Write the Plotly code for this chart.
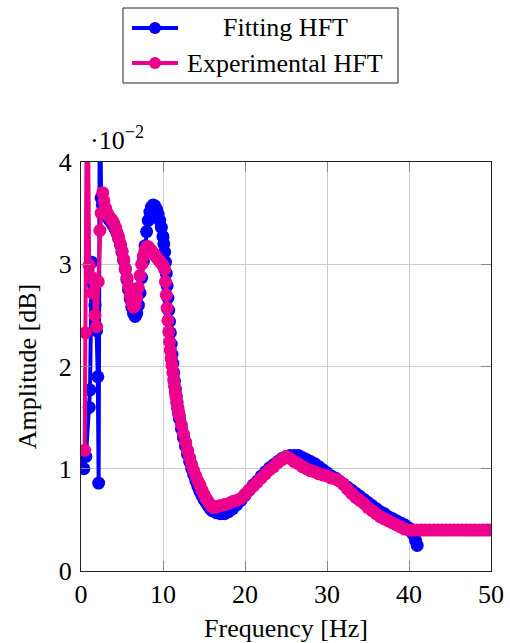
import plotly.graph_objects as go

# Fitted high-frequency transfer (HFT) amplitude
freq_fit = [0.1, 0.35, 0.6, 1.0, 1.1, 1.3, 1.5, 1.7, 1.9, 2.05, 2.15, 2.3, 2.45,
            2.6, 2.8, 3.0, 3.2, 3.4, 3.6, 3.8, 4.0, 4.2, 4.4, 4.6, 4.8, 5.0, 5.2,
            5.4, 5.6, 5.8, 6.0, 6.2, 6.4, 6.6, 6.8, 7.0, 7.2, 7.4, 7.6, 7.8, 8.0,
            8.2, 8.4, 8.6, 8.8, 9.0, 9.2, 9.4, 9.6, 9.8, 10.0, 10.1, 10.2, 10.3,
            10.4, 10.5, 10.6, 10.7, 10.8, 10.9, 11.0, 11.1, 11.2, 11.3, 11.4, 11.5,
            11.6, 11.7, 11.8, 11.9, 12.0, 12.25, 12.5, 12.75, 13.0, 13.25, 13.5,
            13.75, 14.0, 14.25, 14.5, 14.75, 15.0, 15.25, 15.5, 15.75, 16.0, 16.5,
            17.0, 17.5, 18.0, 18.5, 19.0, 19.5, 20.0, 20.5, 21.0, 21.5, 22.0, 22.5,
            23.0, 23.5, 24.0, 24.5, 25.0, 25.5, 26.0, 26.5, 27.0, 27.5, 28.0, 28.5,
            29.0, 29.5, 30.0, 30.5, 31.0, 31.5, 32.0, 32.5, 33.0, 33.5, 34.0, 34.5,
            35.0, 35.5, 36.0, 36.5, 37.0, 37.5, 38.0, 38.5, 39.0, 39.5, 40.0, 40.5,
            40.8, 41.0]
amp_fit = [0.0113, 0.0100, 0.0112, 0.0160, 0.0177, 0.0302, 0.0280, 0.0260, 0.0235,
           0.0190, 0.0086, 0.0500, 0.0365, 0.0358, 0.0352, 0.0350, 0.0347, 0.0344,
           0.0342, 0.0340, 0.0337, 0.0334, 0.0330, 0.0325, 0.0319, 0.0312, 0.0304,
           0.0295, 0.0285, 0.0275, 0.0266, 0.0258, 0.0252, 0.0249, 0.0252, 0.0260,
           0.0272, 0.0287, 0.0303, 0.0318, 0.0332, 0.0343, 0.0351, 0.0356, 0.0358,
           0.0357, 0.0354, 0.0349, 0.0343, 0.0336, 0.0327, 0.0320, 0.0312, 0.0302,
           0.0291, 0.0279, 0.0267, 0.0255, 0.0244, 0.0233, 0.0222, 0.0212, 0.0203,
           0.0194, 0.0186, 0.0178, 0.0171, 0.0165, 0.0159, 0.0154, 0.0149, 0.0139,
           0.0130, 0.0122, 0.0114, 0.0107, 0.0100, 0.0094, 0.0088, 0.0083, 0.0078,
           0.0074, 0.0070, 0.0067, 0.0064, 0.0061, 0.0059, 0.0057, 0.0056, 0.0056,
           0.0058, 0.0061, 0.0065, 0.0069, 0.0074, 0.0079, 0.0084, 0.0088, 0.0093,
           0.0097, 0.0101, 0.0104, 0.0107, 0.0110, 0.0112, 0.0113, 0.0113, 0.0113,
           0.0111, 0.0109, 0.0107, 0.0105, 0.0102, 0.0099, 0.0096, 0.0093, 0.0091,
           0.0088, 0.0085, 0.0082, 0.0079, 0.0076, 0.0073, 0.0070, 0.0067, 0.0064,
           0.0061, 0.0058, 0.0056, 0.0053, 0.0051, 0.0049, 0.0047, 0.0045, 0.0042,
           0.0036, 0.0030, 0.0025]

# Measured high-frequency transfer (HFT) amplitude
freq_exp = [0.45, 0.55, 0.75, 1.0, 1.2, 1.4, 1.55, 1.7, 1.9, 2.1, 2.3, 2.45, 2.65,
            2.8, 3.0, 3.2, 3.4, 3.6, 3.8, 4.0, 4.2, 4.4, 4.6, 4.8, 5.0, 5.2, 5.4,
            5.6, 5.8, 6.0, 6.2, 6.4, 6.6, 6.8, 7.0, 7.2, 7.4, 7.6, 7.8, 8.0, 8.2,
            8.4, 8.6, 8.8, 9.0, 9.2, 9.4, 9.6, 9.8, 10.0, 10.2, 10.3, 10.4, 10.5,
            10.6, 10.7, 10.8, 10.9, 11.0, 11.1, 11.2, 11.3, 11.4, 11.5, 11.6, 11.7,
            11.8, 11.9, 12.0, 12.25, 12.5, 12.75, 13.0, 13.25, 13.5, 13.75, 14.0,
            14.25, 14.5, 14.75, 15.0, 15.25, 15.5, 15.75, 16.0, 16.2, 16.5, 17.0,
            17.5, 18.0, 18.5, 19.0, 19.5, 20.0, 20.5, 21.0, 21.5, 22.0, 22.5, 23.0,
            23.5, 24.0, 24.5, 25.0, 25.5, 26.0, 26.5, 27.0, 27.5, 28.0, 28.5, 29.0,
            29.5, 30.0, 30.5, 31.0, 31.5, 32.0, 32.5, 33.0, 33.5, 34.0, 34.5, 35.0,
            35.5, 36.0, 36.5, 37.0, 37.5, 38.0, 38.5, 39.0, 39.5, 40.0, 40.5, 41.0,
            41.5, 42.0, 42.5, 43.0, 43.5, 44.0, 44.5, 45.0, 45.5, 46.0, 46.5, 47.0,
            47.5, 48.0, 48.5, 49.0, 49.5, 50.0]
amp_exp = [0.0118, 0.0233, 0.0520, 0.0299, 0.0288, 0.0272, 0.0285, 0.0250, 0.0239,
           0.0283, 0.0333, 0.0350, 0.0370, 0.0362, 0.0355, 0.0350, 0.0347, 0.0345,
           0.0343, 0.0340, 0.0336, 0.0331, 0.0326, 0.0320, 0.0313, 0.0305, 0.0296,
           0.0287, 0.0278, 0.0269, 0.0262, 0.0258, 0.0260, 0.0267, 0.0277, 0.0289,
           0.0300, 0.0308, 0.0314, 0.0317, 0.0317, 0.0315, 0.0313, 0.0311, 0.0309,
           0.0307, 0.0305, 0.0303, 0.0301, 0.0299, 0.0295, 0.0283, 0.0270, 0.0257,
           0.0245, 0.0234, 0.0224, 0.0216, 0.0208, 0.0201, 0.0194, 0.0187, 0.0181,
           0.0175, 0.0170, 0.0165, 0.0160, 0.0156, 0.0152, 0.0143, 0.0134, 0.0126,
           0.0118, 0.0111, 0.0104, 0.0098, 0.0093, 0.0088, 0.0084, 0.0079, 0.0075,
           0.0071, 0.0068, 0.0065, 0.0063, 0.0062, 0.0063, 0.0064, 0.0065, 0.0066,
           0.0068, 0.0069, 0.0071, 0.0075, 0.0079, 0.0083, 0.0087, 0.0091, 0.0095,
           0.0099, 0.0102, 0.0106, 0.0109, 0.0112, 0.0110, 0.0107, 0.0105, 0.0102,
           0.0100, 0.0098, 0.0097, 0.0095, 0.0094, 0.0093, 0.0091, 0.0090, 0.0088,
           0.0085, 0.0080, 0.0076, 0.0072, 0.0069, 0.0066, 0.0062, 0.0059, 0.0056,
           0.0053, 0.0051, 0.0049, 0.0047, 0.0045, 0.0043, 0.0041, 0.0040, 0.0040,
           0.0040, 0.0040, 0.0040, 0.0040, 0.0040, 0.0040, 0.0040, 0.0040, 0.0040,
           0.0040, 0.0040, 0.0040, 0.0040, 0.0040, 0.0040, 0.0040, 0.0040, 0.0040,
           0.0040, 0.0040]

x_ticks = [0, 10, 20, 30, 40, 50]
y_ticks = [0, 0.01, 0.02, 0.03, 0.04]
y_tick_text = ["0", "1", "2", "3", "4"]

series_names = ["Fitting HFT", "Experimental HFT"]

FONT = "Liberation Serif"
BLUE = "#0000FF"
PINK = "#EC008C"
COLORS = [BLUE, PINK]

# plot-area geometry (pixels) used to place the legend box above the axes
W, H = 510, 643
ML, MR, MT, MB = 81, 19, 162, 72
PW, PH = W - ML - MR, H - MT - MB


def px(xp):
    return (xp - ML) / PW


def py(yp):
    return (H - MB - yp) / PH


fig = go.Figure()
for xs, ys, name, col in [(freq_fit, amp_fit, series_names[0], BLUE),
                          (freq_exp, amp_exp, series_names[1], PINK)]:
    fig.add_trace(go.Scatter(
        x=xs, y=ys, mode="lines+markers", name=name, showlegend=False,
        line=dict(color=col, width=4),
        marker=dict(color=col, size=13, symbol="circle", line=dict(width=0)),
        cliponaxis=True,
    ))

axis_common = dict(
    showline=True, linecolor="#222222", linewidth=1, mirror="ticks",
    ticks="inside", ticklen=10, tickcolor="#888888", tickwidth=1,
    showgrid=True, gridcolor="#cccccc", gridwidth=1,
    zeroline=False, automargin=False,
    tickfont=dict(family=FONT, size=26, color="black"),
    title_font=dict(family=FONT, size=26, color="black"),
)

fig.update_xaxes(range=[0, 50], tickvals=x_ticks, ticktext=[str(t) for t in x_ticks],
                 title_text="Frequency [Hz]", title_standoff=14, **axis_common)
fig.update_yaxes(range=[0, 0.04], tickvals=y_ticks, ticktext=y_tick_text,
                 ticklabelstandoff=3,
                 title_text="Amplitude [dB]", title_standoff=14, **axis_common)

# axis scale factor written above the y axis
fig.add_annotation(
    x=px(88), y=py(120), xref="paper", yref="paper", xanchor="left", yanchor="top",
    text="·10<sup>−2</sup>", showarrow=False,
    font=dict(family=FONT, size=26, color="black"),
)

# legend box with line-and-marker samples
fig.add_shape(type="rect", xref="paper", yref="paper",
              x0=px(123), x1=px(398), y0=py(83), y1=py(8),
              line=dict(color="#222222", width=1), fillcolor="white")
row_y = [28, 63]
for name, col, ry in zip(series_names, COLORS, row_y):
    fig.add_shape(type="line", xref="paper", yref="paper",
                  x0=px(132), x1=px(178), y0=py(ry), y1=py(ry),
                  line=dict(color=col, width=4))
    fig.add_shape(type="circle", xref="paper", yref="paper",
                  xsizemode="pixel", ysizemode="pixel",
                  xanchor=px(155), yanchor=py(ry),
                  x0=-6, x1=6, y0=-6, y1=6,
                  line=dict(color=col, width=0), fillcolor=col)
    fig.add_annotation(x=px(285), y=py(ry), xref="paper", yref="paper",
                       xanchor="center", yanchor="middle", text=name,
                       showarrow=False,
                       font=dict(family=FONT, size=26, color="black"))

fig.update_layout(
    width=W, height=H,
    margin=dict(l=ML, r=MR, t=MT, b=MB),
    plot_bgcolor="white", paper_bgcolor="white",
    font=dict(family=FONT, color="black"),
    showlegend=False,
)

fig.write_html("out.html")
